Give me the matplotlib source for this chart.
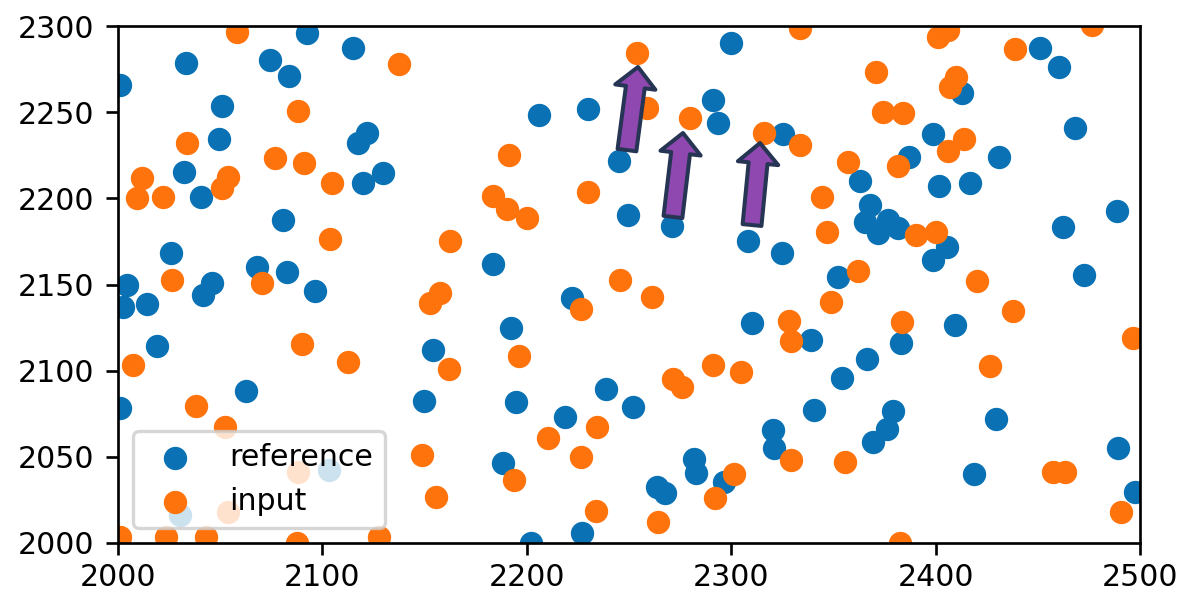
import numpy as np
import matplotlib
matplotlib.use("Agg")
import matplotlib.pyplot as plt

# reference points (x, y)
ref_x = [2001.0, 2033.3, 2074.4, 2083.8, 2092.3, 2114.8, 2050.7, 2049.4, 2117.3, 2121.7,
         2032.3, 2120.0, 2129.8, 2040.6, 2080.6, 2025.8, 2067.9, 2082.5, 2004.2, 2045.8,
         2041.7, 2096.4, 2002.6, 2014.3, 2019.2, 2062.5, 2001.0, 2103.0, 2030.2, 2206.0,
         2230.1, 2245.3, 2183.6, 2249.5, 2221.9, 2192.1, 2154.0, 2149.8, 2194.7, 2238.7,
         2218.7, 2252.0, 2188.5, 2226.8, 2201.9, 2299.9, 2291.2, 2293.3, 2325.5, 2363.0,
         2367.9, 2365.5, 2372.0, 2376.9, 2381.8, 2270.9, 2308.4, 2325.0, 2352.4, 2451.1,
         2460.5, 2412.7, 2468.2, 2398.9, 2387.1, 2431.0, 2401.8, 2416.8, 2488.6, 2462.5,
         2405.4, 2398.9, 2472.6, 2310.0, 2339.2, 2366.2, 2354.3, 2340.6, 2379.0, 2376.4,
         2369.5, 2320.6, 2320.9, 2281.8, 2282.8, 2296.6, 2263.5, 2267.6, 2383.1, 2409.7,
         2429.5, 2489.4, 2418.9, 2497.6]
ref_y = [2265.8, 2278.4, 2280.3, 2271.0, 2295.8, 2287.4, 2253.6, 2234.4, 2231.9, 2237.7,
         2215.5, 2209.1, 2214.5, 2201.0, 2187.4, 2168.4, 2160.3, 2157.4, 2149.5, 2150.7,
         2143.9, 2146.0, 2137.1, 2138.7, 2114.5, 2088.2, 2078.2, 2042.4, 2016.5, 2248.4,
         2251.7, 2221.7, 2161.7, 2190.3, 2142.0, 2124.9, 2112.0, 2082.6, 2081.6, 2089.4,
         2073.0, 2079.1, 2046.2, 2005.6, 2000.0, 2290.0, 2257.1, 2243.5, 2237.1, 2210.0,
         2196.1, 2186.4, 2179.7, 2187.4, 2182.6, 2184.0, 2175.2, 2168.5, 2154.5, 2287.4,
         2276.0, 2261.0, 2240.6, 2237.2, 2224.2, 2224.2, 2207.3, 2209.1, 2192.6, 2183.2,
         2172.0, 2164.2, 2155.5, 2127.5, 2117.8, 2106.8, 2095.6, 2077.2, 2076.8, 2066.0,
         2058.5, 2065.6, 2054.9, 2048.8, 2040.8, 2035.6, 2032.7, 2028.8, 2116.2, 2126.5,
         2071.8, 2055.3, 2040.0, 2029.4]

# input points (x, y)
inp_x = [2058.1, 2088.2, 2033.6, 2076.8, 2091.0, 2011.6, 2054.0, 2050.7, 2104.5, 2009.1,
         2022.2, 2103.7, 2026.3, 2070.3, 2007.5, 2090.2, 2112.7, 2038.0, 2052.3, 2088.1,
         2053.8, 2001.0, 2023.5, 2043.1, 2087.4, 2137.6, 2191.4, 2183.6, 2190.1, 2199.9,
         2230.1, 2162.4, 2157.5, 2152.6, 2245.6, 2226.3, 2162.1, 2196.3, 2234.2, 2210.2,
         2226.5, 2148.6, 2193.7, 2155.6, 2233.7, 2127.8, 2333.7, 2253.8, 2370.8, 2258.6,
         2279.8, 2374.4, 2316.2, 2333.7, 2357.3, 2344.2, 2347.1, 2362.2, 2261.1, 2476.3,
         2401.3, 2406.2, 2438.8, 2410.0, 2407.0, 2384.2, 2413.9, 2406.2, 2381.8, 2390.3,
         2400.2, 2420.4, 2348.6, 2328.4, 2329.1, 2291.2, 2304.8, 2271.7, 2275.8, 2329.1,
         2355.8, 2301.4, 2292.1, 2264.0, 2383.4, 2437.7, 2496.7, 2426.6, 2457.6, 2463.3,
         2490.5, 2382.6]
inp_y = [2296.7, 2250.9, 2231.9, 2223.2, 2220.7, 2211.6, 2212.6, 2205.8, 2209.1, 2200.0,
         2201.0, 2176.2, 2152.5, 2151.0, 2103.3, 2115.3, 2105.2, 2079.7, 2067.5, 2041.4,
         2017.8, 2003.7, 2003.7, 2003.7, 2000.0, 2277.8, 2225.1, 2201.4, 2193.6, 2188.4,
         2203.9, 2175.4, 2145.0, 2139.1, 2152.6, 2135.6, 2100.8, 2108.5, 2067.5, 2060.7,
         2050.1, 2051.1, 2036.6, 2026.9, 2018.6, 2003.7, 2298.7, 2284.5, 2273.5, 2252.6,
         2246.4, 2250.3, 2237.7, 2230.9, 2221.3, 2200.6, 2180.6, 2157.8, 2142.6, 2300.6,
         2293.8, 2297.7, 2286.5, 2270.6, 2264.8, 2249.3, 2234.4, 2227.5, 2218.8, 2178.7,
         2180.6, 2152.3, 2139.6, 2128.8, 2117.2, 2103.3, 2099.0, 2095.2, 2090.7, 2048.2,
         2046.8, 2039.9, 2025.9, 2012.4, 2128.4, 2134.6, 2118.8, 2102.7, 2041.4, 2041.4,
         2018.2, 2000.0]

# highlight arrows: (tail, tip)
arrows = [((2249.0, 2228.0), (2254.4, 2276.2)),
          ((2271.5, 2189.2), (2276.4, 2237.9)),
          ((2310.2, 2184.5), (2314.1, 2232.1))]

plt.rcParams['font.size'] = 9

fig, ax = plt.subplots(figsize=(1182 / 240, 592 / 240), dpi=240)
fig.subplots_adjust(left=118 / 1182, right=1140 / 1182, bottom=1 - 543 / 592, top=1 - 26 / 592)

ax.scatter(ref_x, ref_y, color='#0a72b4', label='reference')
ax.scatter(inp_x, inp_y, color='#ff730c', label='input')

for tail, tip in arrows:
    ax.annotate('', xy=tip, xytext=tail,
                arrowprops=dict(arrowstyle='simple,head_length=0.45,head_width=0.9,tail_width=0.42',
                                fc='#8e48b0', ec='#263554', lw=1.2,
                                shrinkA=0, shrinkB=0, mutation_scale=13.5))

ax.set_xlim(2000, 2500)
ax.set_ylim(2000, 2300)
ax.set_xticks(np.arange(2000, 2501, 100))
ax.set_yticks(np.arange(2000, 2301, 50))
ax.tick_params(axis='x', pad=2.5)
ax.legend(loc='lower left')

plt.savefig('out.png', dpi=240)
